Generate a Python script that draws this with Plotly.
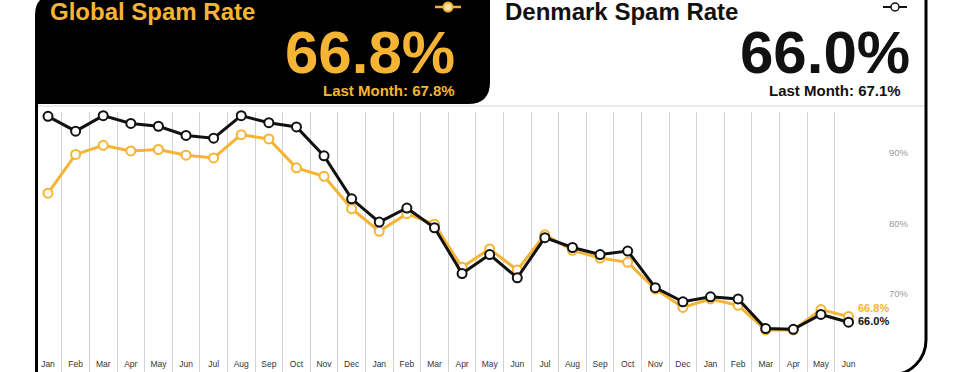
import plotly.graph_objects as go

months = ["Jan", "Feb", "Mar", "Apr", "May", "Jun", "Jul", "Aug", "Sep", "Oct", "Nov", "Dec",
          "Jan", "Feb", "Mar", "Apr", "May", "Jun", "Jul", "Aug", "Sep", "Oct", "Nov", "Dec",
          "Jan", "Feb", "Mar", "Apr", "May", "Jun"]
global_rate = [84.3, 89.8, 91.1, 90.3, 90.5, 89.7, 89.3, 92.6, 92.0, 87.9, 86.7, 82.1,
               78.9, 81.4, 79.9, 73.8, 76.4, 73.4, 78.4, 76.2, 75.1, 74.5, 70.7, 68.1,
               69.3, 68.4, 64.9, 64.9, 67.8, 66.8]
denmark_rate = [95.2, 93.1, 95.3, 94.2, 93.8, 92.5, 92.1, 95.3, 94.3, 93.7, 89.6, 83.5,
                80.2, 82.2, 79.4, 72.9, 75.6, 72.3, 78.0, 76.6, 75.6, 76.1, 70.9, 68.9,
                69.6, 69.3, 65.1, 65.0, 67.1, 66.0]
y_ticks = [70, 80, 90]
y_tick_labels = ["70%", "80%", "90%"]

ORANGE = "#F5B433"
BLACK = "#111111"
W, H = 980, 372
FONT = "Arial, Liberation Sans, sans-serif"


def X(px):
    return px / W


def Y(py):
    return 1 - py / H


x_idx = list(range(len(months)))

fig = go.Figure()
fig.add_trace(go.Scatter(
    x=x_idx, y=global_rate, mode="lines+markers", name="Global",
    line=dict(color=ORANGE, width=3),
    marker=dict(size=9, color="white", line=dict(color=ORANGE, width=2)),
    cliponaxis=False,
))
fig.add_trace(go.Scatter(
    x=x_idx, y=denmark_rate, mode="lines+markers", name="Denmark",
    line=dict(color=BLACK, width=3),
    marker=dict(size=9, color="white", line=dict(color=BLACK, width=2)),
    cliponaxis=False,
))

shapes = []
# header black box with rounded corners
hb = (f"M {X(35)},{Y(104)} L {X(35)},{Y(15)} Q {X(35)},{Y(-5)} {X(55)},{Y(-5)} "
      f"L {X(490)},{Y(-5)} L {X(490)},{Y(82)} Q {X(490)},{Y(104)} {X(468)},{Y(104)} Z")
shapes.append(dict(type="path", xref="paper", yref="paper", path=hb,
                   fillcolor="black", line=dict(width=0), layer="above"))
# light top line of chart panel
shapes.append(dict(type="line", xref="paper", yref="paper", x0=X(36), x1=X(926),
                   y0=Y(106), y1=Y(106), line=dict(color="#e3e3e3", width=1.5), layer="below"))
# left border
shapes.append(dict(type="line", xref="paper", yref="paper", x0=X(36.5), x1=X(36.5),
                   y0=Y(100), y1=Y(380), line=dict(color="black", width=3), layer="above"))
# right border with rounded bottom corner
k = 0.552 * 35
rb = (f"M {X(926)},{Y(-5)} L {X(926)},{Y(340)} C {X(926)},{Y(340 + k)} {X(891 + k)},{Y(375)} "
      f"{X(891)},{Y(375)} L {X(600)},{Y(375)}")
shapes.append(dict(type="path", xref="paper", yref="paper", path=rb,
                   line=dict(color="black", width=3), layer="above"))
# legend icons
shapes.append(dict(type="line", xref="paper", yref="paper", x0=X(435), x1=X(461),
                   y0=Y(7), y1=Y(7), line=dict(color=ORANGE, width=2.5), layer="above"))
shapes.append(dict(type="circle", xref="paper", yref="paper", x0=X(443.5), x1=X(452.5),
                   y0=Y(11.5), y1=Y(2.5), fillcolor="#FCE3A6", line=dict(color=ORANGE, width=2),
                   layer="above"))
shapes.append(dict(type="line", xref="paper", yref="paper", x0=X(883), x1=X(907),
                   y0=Y(7), y1=Y(7), line=dict(color=BLACK, width=2), layer="above"))
shapes.append(dict(type="circle", xref="paper", yref="paper", x0=X(891), x1=X(899),
                   y0=Y(11), y1=Y(3), fillcolor="white", line=dict(color=BLACK, width=1.5),
                   layer="above"))

annotations = [
    dict(text="<b>Global Spam Rate</b>", x=X(48), y=Y(12), xanchor="left", yanchor="middle",
         font=dict(family=FONT, size=24, color=ORANGE)),
    dict(text=f"<b>{global_rate[-1]:.1f}%</b>", x=X(456), y=Y(52), xanchor="right", yanchor="middle",
         font=dict(family=FONT, size=60, color=ORANGE), height=50, valign="middle", borderpad=0),
    dict(text=f"<b>Last Month: {global_rate[-2]:.1f}%</b>", x=X(456), y=Y(90), xanchor="right",
         yanchor="middle", font=dict(family=FONT, size=15, color=ORANGE), borderpad=0),
    dict(text="<b>Denmark Spam Rate</b>", x=X(503), y=Y(12), xanchor="left", yanchor="middle",
         font=dict(family=FONT, size=24, color=BLACK)),
    dict(text=f"<b>{denmark_rate[-1]:.1f}%</b>", x=X(911), y=Y(52), xanchor="right", yanchor="middle",
         font=dict(family=FONT, size=60, color=BLACK), height=50, valign="middle", borderpad=0),
    dict(text=f"<b>Last Month: {denmark_rate[-2]:.1f}%</b>", x=X(902), y=Y(90), xanchor="right",
         yanchor="middle", font=dict(family=FONT, size=15, color=BLACK), borderpad=0),
    # end labels
    dict(text=f"<b>{global_rate[-1]:.1f}%</b>", x=x_idx[-1], y=global_rate[-1], xref="x", yref="y",
         xanchor="left", yanchor="middle", xshift=7, yshift=9,
         font=dict(family=FONT, size=11, color=ORANGE)),
    dict(text=f"<b>{denmark_rate[-1]:.1f}%</b>", x=x_idx[-1], y=denmark_rate[-1], xref="x", yref="y",
         xanchor="left", yanchor="middle", xshift=7, yshift=1,
         font=dict(family=FONT, size=11, color=BLACK)),
]
for a in annotations:
    a.setdefault("xref", "paper")
    a.setdefault("yref", "paper")
    a["showarrow"] = False

fig.update_layout(
    width=W, height=H,
    margin=dict(l=0, r=0, t=0, b=0),
    paper_bgcolor="white", plot_bgcolor="white",
    showlegend=False,
    shapes=shapes,
    annotations=annotations,
    xaxis=dict(
        domain=[X(34.2), X(888)],
        range=[-0.5, 30.43],
        tickmode="array", tickvals=x_idx, ticktext=months,
        ticklabelposition="inside", ticks="", showgrid=False, zeroline=False, showline=False,
        tickfont=dict(family=FONT, size=8.5, color="#333333"),
        minor=dict(tickmode="array", tickvals=[i + 0.5 for i in range(len(months) - 1)],
                   showgrid=True, gridcolor="#d2d2d2", gridwidth=1, ticks=""),
        fixedrange=True,
    ),
    yaxis=dict(
        domain=[0, Y(112)],
        range=[58.94, 95.82],
        side="right",
        tickmode="array", tickvals=y_ticks, ticktext=y_tick_labels,
        showgrid=False, zeroline=False, showline=False, ticks="",
        tickfont=dict(family=FONT, size=9.5, color="#9a9a9a"),
        fixedrange=True,
    ),
)

fig.write_html("out.html", config={"displayModeBar": False},
               post_script="document.body.style.margin='0';document.body.style.padding='0';")
